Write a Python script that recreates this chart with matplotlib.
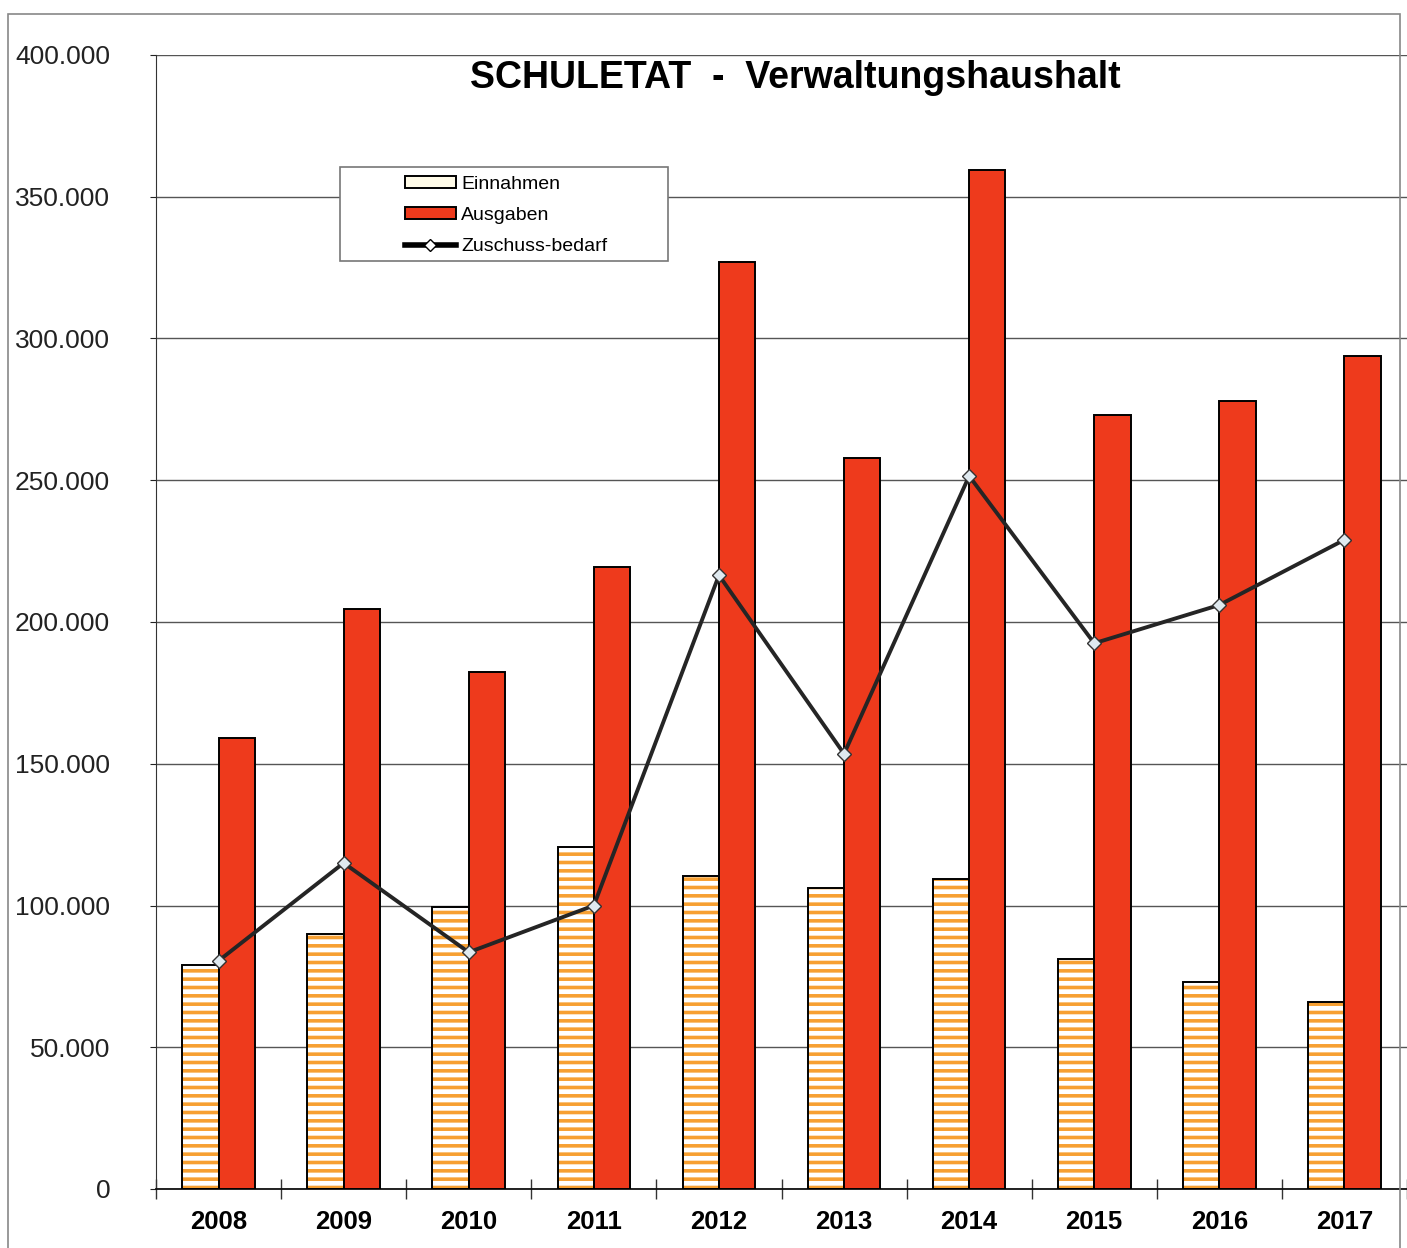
import matplotlib.pyplot as plt
import matplotlib.patches as mpatches
from matplotlib.ticker import FuncFormatter
import numpy as np

plt.rcParams['font.family'] = ['Liberation Sans', 'DejaVu Sans']
plt.rcParams['hatch.linewidth'] = 2.6

years = ['2008', '2009', '2010', '2011', '2012', '2013', '2014', '2015', '2016', '2017']
einnahmen = [79000, 90000, 99500, 120500, 110500, 106000, 109500, 81000, 73000, 66000]
ausgaben = [159000, 204500, 182500, 219500, 327000, 258000, 359500, 273000, 278000, 294000]
zuschuss = [80500, 115000, 83500, 100000, 216500, 153500, 251500, 192500, 206000, 229000]

W, H = 1407, 1248
fig = plt.figure(figsize=(W / 100, H / 100), dpi=100)
ax = fig.add_axes([156 / W, 1 - 1189 / H, (1407 - 156) / W, (1189 - 55) / H])

x = np.arange(len(years))
bw = 0.29
orange = '#F7A032'
red = '#EE3A1C'

# striped income bars: orange hatch first, black outline on top
ax.bar(x - bw / 2, einnahmen, bw, facecolor='white', edgecolor=orange, hatch='--', linewidth=0, zorder=2)
ax.bar(x - bw / 2, einnahmen, bw, facecolor='none', edgecolor='black', linewidth=1.4, zorder=3)
ax.bar(x + bw / 2, ausgaben, bw, facecolor=red, edgecolor='black', linewidth=1.4, zorder=3)
ax.plot(x, zuschuss, color='#252525', lw=2.8, marker='D', ms=7, mfc='#dfe9ef', mec='#333333', mew=1, zorder=4)

ax.set_xlim(-0.5, len(years) - 0.5)
ax.set_ylim(0, 400000)
ax.set_yticks(np.arange(0, 400001, 50000))
ax.yaxis.set_major_formatter(FuncFormatter(lambda v, p: f'{int(v):,}'.replace(',', '.')))
ax.tick_params(axis='y', labelsize=19, pad=29, length=4, colors='#222222')
ax.yaxis.grid(True, color='#555555', lw=1)
ax.set_axisbelow(True)

ax.set_xticks(np.arange(-0.5, len(years), 1))
ax.set_xticklabels([])
ax.set_xticks(x, minor=True)
ax.set_xticklabels(years, minor=True, fontsize=18.5, fontweight='bold')
ax.tick_params(axis='x', which='major', direction='inout', length=14, width=1, color='#333333')
ax.tick_params(axis='x', which='minor', length=0, pad=15)

for s in ['top', 'right']:
    ax.spines[s].set_visible(False)
ax.spines['left'].set_color('#333333')
ax.spines['bottom'].set_color('#111111')
ax.spines['bottom'].set_linewidth(1.3)

fig.text(795 / W, 1 - 78 / H, 'SCHULETAT  -  Verwaltungshaushalt', ha='center', va='center',
         fontsize=27, fontweight='bold')

# legend box and outer frame
fig.add_artist(mpatches.Rectangle((340 / W, 1 - 261 / H), 328 / W, 94 / H, transform=fig.transFigure,
                                  facecolor='white', edgecolor='#777777', lw=1.2, zorder=3))
fig.add_artist(mpatches.Rectangle((8 / W, -0.05), (1400 - 8) / W, 1.05 - 14 / H, transform=fig.transFigure,
                                  facecolor='none', edgecolor='#888888', lw=1.2, zorder=3))

handles = [mpatches.Patch(facecolor='#fffbe8', edgecolor='black', lw=1.4),
           mpatches.Patch(facecolor=red, edgecolor='black', lw=1.4),
           plt.Line2D([], [], color='black', lw=4, marker='D', ms=6, mfc='white', mec='black')]
fig.legend(handles, ['Einnahmen', 'Ausgaben', 'Zuschuss-bedarf'], loc='center left',
           bbox_to_anchor=(405 / W, 1 - 215.5 / H), frameon=False, fontsize=14, borderpad=0,
           borderaxespad=0, handlelength=2.6, handleheight=0.55, handletextpad=0.3, labelspacing=0.72)

fig.savefig('out.png', dpi=100)
